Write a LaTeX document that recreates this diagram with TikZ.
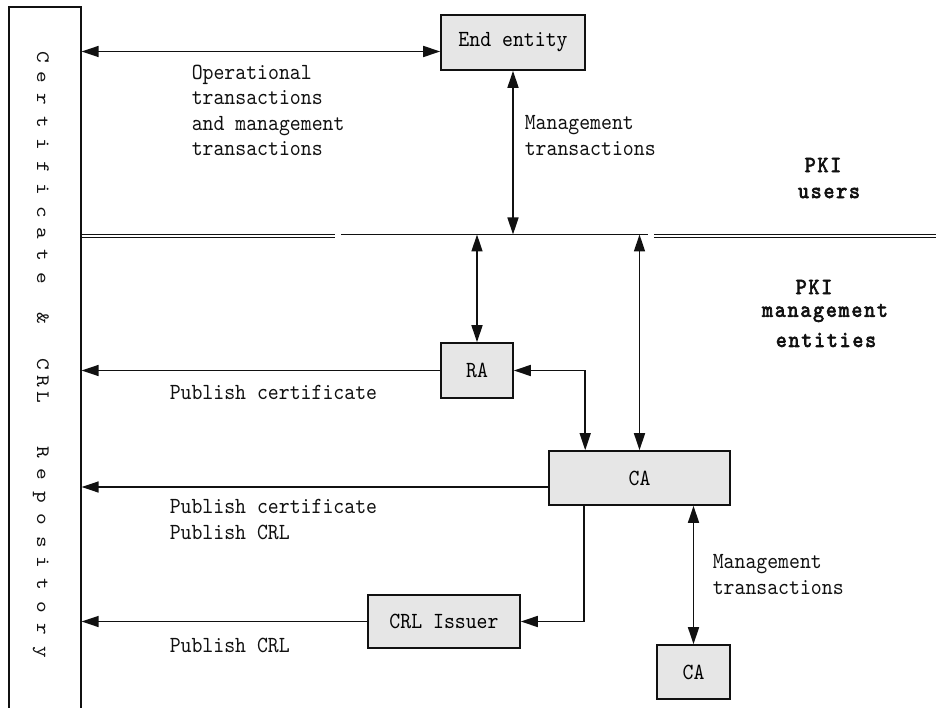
\documentclass[tikz,border=0pt]{standalone}
\usepackage{fontspec}
\usetikzlibrary{arrows.meta}
\newfontfamily\lblfont{lmmono10-regular}[Extension=.otf, FakeStretch=0.9]
\newfontfamily\headfont{lmmono10-regular}[Extension=.otf, FakeStretch=0.9, FakeBold=3, LetterSpace=8]
\definecolor{boxgray}{HTML}{E6E6E6}
\definecolor{ink}{HTML}{111111}
\newcommand{\lblsize}{\fontsize{23.1pt}{25.5pt}\selectfont}
\newcommand{\vchar}[1]{\scalebox{1.3}[1]{#1}}
\begin{document}
\begin{tikzpicture}[x=1pt,y=-1pt,
  line width=1.5pt, draw=ink,
  >={Triangle[length=17pt,width=11pt]},
  box/.style={draw=ink, fill=boxgray, line width=1.6pt, inner sep=0pt,
    font=\lblfont\lblsize},
  lbl/.style={inner sep=0pt, align=left, anchor=west, text=ink,
    font=\lblfont\lblsize},
  head/.style={inner sep=0pt, text=ink, font=\headfont\lblsize},
  vlet/.style={inner sep=0pt, rotate=-90, anchor=base, text=ink,
    font=\lblfont\fontsize{19pt}{22pt}\selectfont},
  sepdouble/.style={double=white, double distance=2.6pt, line width=1pt, draw=ink}]

\useasboundingbox (0,0) rectangle (936,708);
\clip (0,0) rectangle (936,708);

% repository column (runs off the bottom edge)
\node[draw=ink, line width=1.6pt, minimum width=72pt, minimum height=740pt,
  anchor=north west, inner sep=0pt] (repo) at (8,6) {};
\foreach \c/\yy [count=\i] in {C/57, e/77, r/99, t/122, i/144, f/167, i/189,
    c/212, a/233, t/255, e/278, \&/318, C/364, R/381, L/397, R/452, e/474,
    p/497, o/519, s/542, i/562, t/584, o/607, r/629, y/652}
  \node[vlet] (rl\i) at (37,\yy) {\vchar{\c}};

% boxes
\node[box, minimum width=144pt, minimum height=55pt] (ee)  at (513,42.5)  {End entity};
\node[box, minimum width=72pt,  minimum height=55pt] (ra)  at (477,370.5) {RA};
\node[box, minimum width=181pt, minimum height=54pt] (ca)  at (639.5,478) {CA};
\node[box, minimum width=152pt, minimum height=53pt] (crl) at (444,621.5) {CRL Issuer};
\node[box, minimum width=73pt,  minimum height=54pt] (ca2) at (693.5,672) {CA};

% boundary between PKI users and PKI management entities
\coordinate (dblA) at (335,236);
\coordinate (dblB) at (654,236);
\coordinate (dblEnd) at (940,236);
\coordinate (sepL) at (341,234.5);
\coordinate (sepR) at (648,234.5);
\draw[sepdouble] (repo.east |- dblA) -- (dblA);
\draw[sepdouble] (dblB) -- (dblEnd);
\draw[line width=1.2pt] (sepL) -- (sepR);

% ports on the left side of boxes
\coordinate (eeport) at ([yshift=-9pt]ee.west);
\coordinate (caport) at ([yshift=-9pt]ca.west);
\coordinate (catoRA) at ([xshift=37pt]ca.north west);
\coordinate (catoCRL) at ([xshift=36pt]ca.south west);

% connectors
\draw[<->] (eeport) -- (eeport -| repo.east);
\draw[<->] (ee.south) -- (ee.south |- sepL);
\draw[<->] (ra.north) -- (ra.north |- sepL);
\draw[<->] (ca.north) -- (ca.north |- sepR);
\draw[<->] (ra.east) -| (catoRA);
\draw[->] (ra.west) -- (ra.west -| repo.east);
\draw[->] (caport) -- (caport -| repo.east);
\draw[->] (catoCRL) |- (crl.east);
\draw[->] (crl.west) -- (crl.west -| repo.east);
\draw[<->] (ca2.north |- ca.south) -- (ca2.north);

% labels
\node[lbl] (opl) at (191,110.5) {Operational\\transactions\\and management\\transactions};
\node[lbl] (mgu) at (524,135.5) {Management\\transactions};
\node[lbl] (mgl) at (712,574.5) {Management\\transactions};
\node[lbl] (pc1) at (169,392) {Publish certificate};
\node[lbl] (pc2) at (169,519.5) {Publish certificate\\Publish CRL};
\node[lbl] (pcrl) at (169,645) {Publish CRL};

\node[head] (pkiu1) at (823,165) {PKI};
\node[head] (pkiu2) at (829,193) {users};
\node[head] (pkim1) at (814,287) {PKI};
\node[head] (pkim2) at (825,313) {management};
\node[head] (pkim3) at (826,340) {entities};
\end{tikzpicture}
\end{document}
